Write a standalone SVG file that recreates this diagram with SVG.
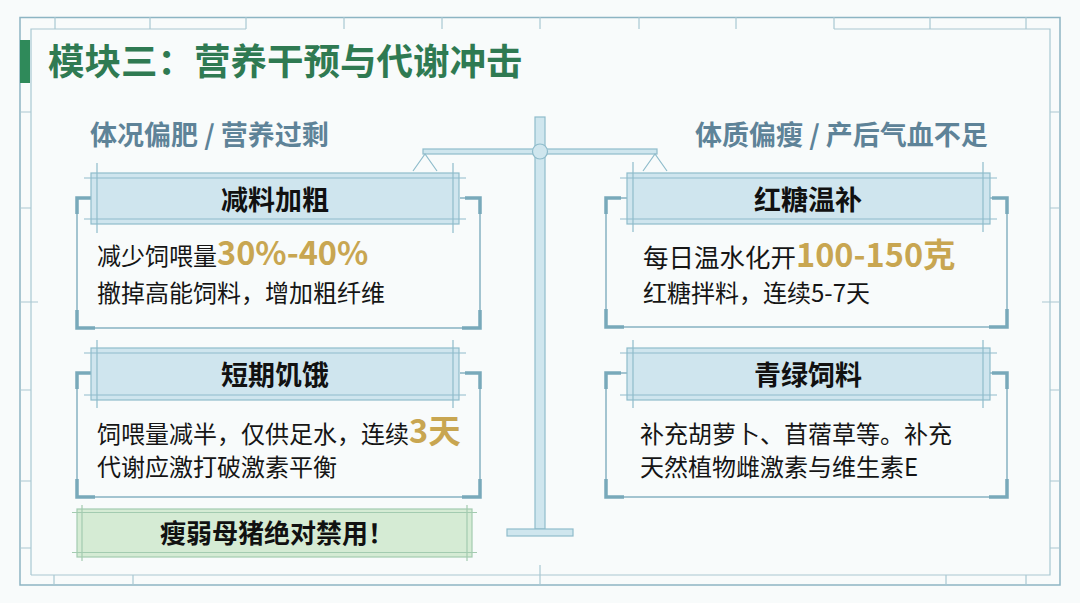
<svg xmlns="http://www.w3.org/2000/svg" width="1080" height="603" viewBox="0 0 1080 603">
<style>
.frame{fill:none;stroke:#8db5c3;stroke-width:1.5}
.frame2{fill:none;stroke:#a9c8d2;stroke-width:1.2}
.hdr{fill:#cfe5ee;stroke:#8fbccb;stroke-width:1.2}
.hl{stroke:#8fbccb;stroke-width:1.2;fill:none}
.br{fill:none;stroke:#86b3c2;stroke-width:1.5}
.brc{fill:none;stroke:#78a9ba;stroke-width:3.5}
.gr{fill:#d5ebd4;stroke:#a3cbb0;stroke-width:1.2}
.grl{stroke:#a3cbb0;stroke-width:1.2;fill:none}
text{font-family:"Noto Sans CJK SC","Noto Sans",sans-serif}
.title{font-size:36.5px;font-weight:700;fill:#2f7a52}
.sub{font-size:27px;font-weight:700;fill:#5e8398}
.ht{font-size:27px;font-weight:700;fill:#111;text-anchor:middle}
.bt{font-size:24px;fill:#151515}
.gold{font-size:32.5px;font-weight:700;fill:#c8a651}
.scale{fill:#cfe6ee;stroke:#8fbccb;stroke-width:1.2}
</style>
<rect width="1080" height="603" fill="#f8fbfb"/>
<g id="frame">
<path class="frame" d="M20,17.5 H1060 V585 H20 Z"/>
<path class="frame2" d="M31,575 V29 H246 M834,29 H1050 V575 H31"/>
<path class="frame2" d="M55,17 V29 M150,17 V29 M246,17 V29 M344,17 V29 M442,17 V29 M540,17 V29 M639,17 V29 M736,17 V29 M834,17 V29 M930,17 V29 M1026,17 V29"/>
<path class="frame2" d="M20,112 H31 M20,208 H31 M20,302 H38 M20,390 H31 M20,481 H31 M20,548 H31"/>
<path class="frame2" d="M1050,112 H1060 M1050,208 H1060 M1042,302 H1060 M1050,390 H1060 M1050,481 H1060 M1050,548 H1060"/>
<path class="frame2" d="M54,575 V585 M133,575 V585 M540,565 V585 M946,575 V585 M1026,575 V585"/>
<rect x="20" y="40" width="10" height="43" fill="#2f8a5a"/>
</g>
<g id="title">
<text class="title" x="48" y="75">模块三：营养干预与代谢冲击</text>
</g>
<g id="subtitle-left">
<text class="sub" x="90" y="145">体况偏肥 / 营养过剩</text>
</g>
<g id="subtitle-right">
<text class="sub" x="695" y="145">体质偏瘦 / 产后气血不足</text>
</g>
<g id="balance">
<rect class="scale" x="535" y="117" width="10" height="412"/>
<rect class="scale" x="507" y="529" width="66" height="7"/>
<rect class="scale" x="423" y="149" width="234" height="5"/>
<circle class="scale" cx="540" cy="151.5" r="7.5"/>
<path class="hl" d="M413,171 L425,154 L437,171 M643,171 L655,154 L667,171"/>
</g>
<g id="card-left-1">
<path class="br" d="M92,198 H77 V328 H480 V198 H460"/>
<path class="brc" d="M92,198 H77 V214 M465,198 H480 V214 M77,310 V328 H95 M480,310 V328 H462"/>
<rect class="hdr" x="91" y="173" width="368" height="51"/>
<path class="hl" d="M84,178 H466 M84,219 H466 M97,163 V233 M453,163 V233"/>
<text class="ht" x="275" y="210">减料加粗</text>
<text class="bt" x="97" y="265">减少饲喂量<tspan class="gold">30%-40%</tspan></text>
<text class="bt" x="97" y="302">撤掉高能饲料，增加粗纤维</text>
</g>
<g id="card-left-2">
<path class="br" d="M92,373 H77 V497 H480 V373 H460"/>
<path class="brc" d="M92,373 H77 V389 M465,373 H480 V389 M77,479 V497 H95 M480,479 V497 H462"/>
<rect class="hdr" x="91" y="348" width="368" height="52"/>
<path class="hl" d="M84,353 H466 M84,395 H466 M97,340 V408 M453,340 V408"/>
<text class="ht" x="275" y="385">短期饥饿</text>
<text class="bt" x="97" y="443">饲喂量减半，仅供足水，连续<tspan class="gold">3天</tspan></text>
<text class="bt" x="97" y="476">代谢应激打破激素平衡</text>
</g>
<g id="warning">
<rect class="gr" x="77" y="509" width="395" height="48"/>
<path class="grl" d="M72,512.5 H477 M72,552.5 H477 M82,505 V561 M467,505 V561"/>
<text class="ht" x="277" y="543" style="font-size:26px">瘦弱母猪绝对禁用！</text>
</g>
<g id="card-right-1">
<path class="br" d="M627,198 H606 V327 H1007 V198 H990"/>
<path class="brc" d="M621,198 H606 V214 M992,198 H1007 V214 M606,309 V327 H624 M1007,309 V327 H989"/>
<rect class="hdr" x="627" y="173" width="363" height="51"/>
<path class="hl" d="M620,178 H997 M620,219 H997 M633,162 V232 M983,162 V232"/>
<text class="ht" x="808" y="210">红糖温补</text>
<text class="bt" x="643" y="267" style="font-size:25.5px">每日温水化开<tspan class="gold">100-150克</tspan></text>
<text class="bt" x="643" y="302">红糖拌料，连续5-7天</text>
</g>
<g id="card-right-2">
<path class="br" d="M627,373 H606 V497 H1007 V373 H990"/>
<path class="brc" d="M621,373 H606 V389 M992,373 H1007 V389 M606,479 V497 H624 M1007,479 V497 H989"/>
<rect class="hdr" x="627" y="348" width="363" height="52"/>
<path class="hl" d="M620,353 H997 M620,395 H997 M633,340 V408 M983,340 V408"/>
<text class="ht" x="808" y="385">青绿饲料</text>
<text class="bt" x="640" y="443">补充胡萝卜、苜蓿草等。补充</text>
<text class="bt" x="640" y="476">天然植物雌激素与维生素E</text>
</g>
<g id="connectors"/>
</svg>
